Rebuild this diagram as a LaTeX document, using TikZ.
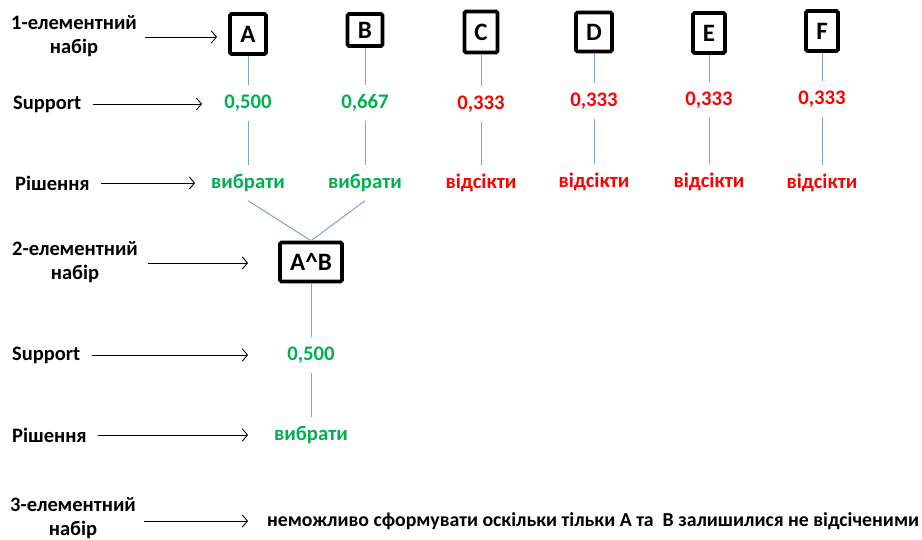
\documentclass[tikz,border=0pt]{standalone}
\usepackage{fontspec}
\setmainfont{Carlito}
\usetikzlibrary{arrows.meta}
\definecolor{selgreen}{RGB}{0,176,80}
\definecolor{cutred}{RGB}{255,0,0}
\definecolor{linkblue}{RGB}{125,162,212}
\begin{document}
\begin{tikzpicture}[x=1pt,y=-1pt,
  lbl/.style={font=\bfseries\fontsize{20.5}{24}\selectfont, align=center, inner sep=0pt},
  item/.style={draw, line width=3.6pt, rounded corners=1.5pt, font=\bfseries\fontsize{25}{25}\selectfont, inner sep=0pt},
  val/.style={font=\bfseries\fontsize{20.7}{20.7}\selectfont, minimum height=35pt, inner sep=0pt},
  good/.style={val, text=selgreen},
  bad/.style={val, text=cutred},
  link/.style={draw=linkblue, line width=1pt},
  pointer/.style={draw, line width=0.8pt, -{Straight Barb[length=5pt,width=12pt,line width=0.9pt]}}
]
\useasboundingbox (0,0) rectangle (922,540);

% items, first level
\node[item, minimum width=36pt, minimum height=40pt] (A) at (248,34) {A};
\node[item, minimum width=35pt, minimum height=32pt] (B) at (365,30) {B};
\node[item, minimum width=33pt, minimum height=41pt] (C) at (481,32) {C};
\node[item, minimum width=36pt, minimum height=39pt] (D) at (594,32) {D};
\node[item, minimum width=32pt, minimum height=40pt] (E) at (709,33) {E};
\node[item, minimum width=32pt, minimum height=40pt] (F) at (822,31) {F};

% support values
\node[good] (vA) at (248,103) {0,500};
\node[good] (vB) at (365,103) {0,667};
\node[bad]  (vC) at (481,104) {0,333};
\node[bad]  (vD) at (594,101) {0,333};
\node[bad]  (vE) at (709,100) {0,333};
\node[bad]  (vF) at (822,99) {0,333};

% decisions
\node[good] (dA) at (248,183) {вибрати};
\node[good] (dB) at (365,183) {вибрати};
\node[bad]  (dC) at (481,183) {відсікти};
\node[bad]  (dD) at (594,182) {відсікти};
\node[bad]  (dE) at (709,182) {відсікти};
\node[bad]  (dF) at (822,183) {відсікти};

% second level
\node[item, minimum width=62pt, minimum height=39pt] (AB) at (311,262) {A\^{}B};
\node[good] (vAB) at (311,355) {0,500};
\node[good] (dAB) at (311,435) {вибрати};

% connectors
\foreach \n in {A,B,C,D,E,F}{
  \draw[link] (\n) -- (v\n);
  \draw[link] (v\n) -- (d\n);
}
\draw[link] (dA.south) -- (AB.north);
\draw[link] (dB.south) -- (AB.north);
\draw[link] (AB) -- (vAB);
\draw[link] (vAB) -- (dAB);

% left labels
\node[lbl] (l1) at (74,36) {1-елементний\\набір};
\node[lbl, anchor=west] (s1) at (13,104) {Support};
\node[lbl, anchor=west] (r1) at (15,183) {Рішення};
\node[lbl] (l2) at (75,262) {2-елементний\\набір};
\node[lbl, anchor=west] (s2) at (12,355) {Support};
\node[lbl, anchor=west] (r2) at (12,435) {Рішення};
\node[lbl] (l3) at (73,518) {3-елементний\\набір};
\node[lbl, font=\bfseries\fontsize{19.8}{24}\selectfont, anchor=west] (note) at (267,521) {неможливо сформувати оскільки тільки A та\ \ B залишилися не відсіченими};

\coordinate (t1) at (217,37);
\coordinate (t2) at (202,104);
\coordinate (t3) at (195,183);
\coordinate (t4) at (248,263);
\coordinate (t5) at (248,355);
\coordinate (t6) at (248,435);
\coordinate (t7) at (248,521);

\draw[pointer, shorten <=8pt] (l1.east |- t1) -- (t1);
\draw[pointer, shorten <=11pt] (s1.east |- t2) -- (t2);
\draw[pointer, shorten <=11pt] (r1.east |- t3) -- (t3);
\draw[pointer, shorten <=10pt] (l2.east |- t4) -- (t4);
\draw[pointer, shorten <=11pt] (s2.east |- t5) -- (t5);
\draw[pointer, shorten <=11pt] (r2.east |- t6) -- (t6);
\draw[pointer, shorten <=8pt] (l3.east |- t7) -- (t7);
\end{tikzpicture}
\end{document}
